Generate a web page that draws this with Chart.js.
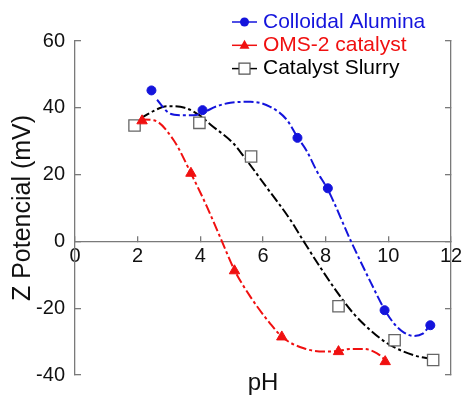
<!DOCTYPE html>
<html>
<head>
<meta charset="utf-8">
<script src="https://cdn.jsdelivr.net/npm/chart.js@4/dist/chart.umd.min.js"></script>
<style>
  html, body { margin: 0; padding: 0; background: #fff; }
  #wrap { width: 464px; height: 397px; position: relative; }
</style>
</head>
<body>
<div id="wrap"><canvas id="zeta"></canvas></div>
<script>
// measured points
const aluminaPH = [2.44, 4.07, 7.1, 8.07, 9.88, 11.34]
const aluminaZ = [45.2, 39.3, 31, 15.9, -20.6, -25.1]
const omsPH = [2.14, 3.7, 5.09, 6.6, 8.41, 9.9]
const omsZ = [36.1, 20.4, -8.8, -28.6, -33, -36]
const slurryPH = [1.9, 3.97, 5.62, 8.41, 10.2, 11.43]
const slurryZ = [34.7, 35.5, 25.4, -19.4, -29.6, -35.5]

// fitted dash-dot curves, knots
const aluminaFitPH = [2.62, 2.99, 3.36, 3.79, 4.1, 4.5, 4.96, 5.6, 6.23, 6.77, 7.08, 7.4, 7.72, 8.07, 8.81, 9.45, 9.88, 10.2, 10.5, 10.8, 11.1, 11.34]
const aluminaFitZ = [42.4, 38.5, 37.8, 37.8, 38.6, 40.4, 41.5, 41.8, 40.3, 36.3, 31.5, 27, 21, 15.5, 0, -12.5, -20.4, -24.8, -27.3, -28.3, -27.6, -25]
const omsFitPH = [2.09, 2.5, 3.15, 3.7, 4.21, 4.69, 5.09, 5.6, 6.23, 6.66, 7.3, 7.93, 8.41, 8.79, 9.21, 9.64, 9.96]
const omsFitZ = [36.5, 36.3, 30.3, 20.4, 10.4, 0, -8.6, -16.6, -24.6, -29, -32, -33, -32.8, -32.2, -32.2, -33.5, -36]
const slurryFitPH = [2.09, 2.5, 2.93, 3.5, 3.97, 4.32, 5.06, 5.38, 6.13, 6.87, 7.3, 7.83, 8.36, 8.89, 9.43, 9.96, 10.49, 11.02, 11.3]
const slurryFitZ = [36.8, 39, 40.5, 40, 37.8, 35, 29.3, 25.5, 16, 6.5, 0, -7.8, -15.1, -21.6, -26.6, -30.5, -33, -34.6, -35]

const seriesLabels = ['Colloidal Alumina', 'OMS-2 catalyst', 'Catalyst Slurry']
const xRange = [0, 12]
const yRange = [-40, 60]

const BLUE = '#1414dc'
const RED = '#f01010'
const BLACK = '#000000'
const AXIS = '#7a7a7a'
const FONT = '"Liberation Sans", Arial, sans-serif'

const toXY = (xs, ys) => xs.map((x, i) => ({ x, y: ys[i] }))

function markerSet(label, xs, ys, color, style, radius, fill) {
  return {
    label,
    data: toXY(xs, ys),
    showLine: false,
    pointStyle: style,
    pointRadius: radius,
    pointBackgroundColor: fill,
    pointBorderColor: color,
    pointBorderWidth: style === 'rect' ? 1.3 : 1,
    borderColor: color,
    backgroundColor: fill,
    order: 0
  }
}

function fitSet(xs, ys, color) {
  return {
    label: '',
    data: toXY(xs, ys),
    showLine: true,
    borderColor: color,
    borderWidth: 2,
    borderDash: [10, 3, 3, 3],
    pointRadius: 0,
    cubicInterpolationMode: 'monotone',
    fill: false,
    order: 1
  }
}

const legendStyles = [
  { color: BLUE, style: 'circle' },
  { color: RED, style: 'triangle' },
  { color: BLACK, style: 'rect' }
]

const lineLegend = {
  id: 'lineLegend',
  afterDraw(chart) {
    const { ctx } = chart
    ctx.save()
    ctx.font = `21px ${FONT}`
    ctx.textBaseline = 'middle'
    seriesLabels.forEach((text, i) => {
      const { color, style } = legendStyles[i]
      const y = 22 + i * 23.3
      ctx.strokeStyle = color
      ctx.lineWidth = 1.5
      ctx.beginPath()
      ctx.moveTo(232, y)
      ctx.lineTo(257, y)
      ctx.stroke()
      ctx.beginPath()
      if (style === 'circle') {
        ctx.fillStyle = color
        ctx.arc(244.5, y, 4.5, 0, Math.PI * 2)
        ctx.fill()
      } else if (style === 'triangle') {
        ctx.fillStyle = color
        ctx.moveTo(244.5, y - 5.5)
        ctx.lineTo(249.5, y + 3.5)
        ctx.lineTo(239.5, y + 3.5)
        ctx.closePath()
        ctx.fill()
      } else {
        ctx.fillStyle = '#fff'
        ctx.strokeStyle = '#555'
        ctx.lineWidth = 1.2
        ctx.rect(239, y - 5.5, 11, 11)
        ctx.fill()
        ctx.stroke()
      }
      ctx.fillStyle = color
      ctx.fillText(text, 263, y)
    })
    ctx.restore()
  }
}

const gridInward = {
  display: true,
  drawOnChartArea: false,
  color: AXIS,
  lineWidth: 1.3,
  tickLength: -6
}

new Chart(document.getElementById('zeta'), {
  type: 'scatter',
  data: {
    datasets: [
      markerSet(seriesLabels[0], aluminaPH, aluminaZ, BLUE, 'circle', 4.5, BLUE),
      markerSet(seriesLabels[1], omsPH, omsZ, RED, 'triangle', 6, RED),
      markerSet(seriesLabels[2], slurryPH, slurryZ, '#666', 'rect', 8, '#fff'),
      fitSet(aluminaFitPH, aluminaFitZ, BLUE),
      fitSet(omsFitPH, omsFitZ, RED),
      fitSet(slurryFitPH, slurryFitZ, BLACK)
    ]
  },
  plugins: [lineLegend],
  options: {
    responsive: true,
    maintainAspectRatio: false,
    animation: false,
    layout: { padding: { left: 0, right: 0, top: 41, bottom: 22 } },
    plugins: {
      legend: { display: false },
      tooltip: { enabled: false }
    },
    scales: {
      x: {
        type: 'linear',
        position: { y: 0 },
        min: xRange[0],
        max: xRange[1],
        grid: gridInward,
        border: { display: true, color: AXIS, width: 1.3 },
        ticks: {
          stepSize: 2,
          padding: 9,
          color: '#111',
          font: { family: FONT, size: 20 }
        },
        title: {
          display: true,
          text: 'pH',
          color: '#111',
          font: { family: FONT, size: 24 },
          padding: { top: 0, bottom: 4 }
        },
        afterFit: (scale) => {
          scale.height = 160
          scale.paddingLeft = 0
          scale.paddingRight = 0
        }
      },
      y: {
        type: 'linear',
        position: 'left',
        min: yRange[0],
        max: yRange[1],
        grid: gridInward,
        border: { display: true, color: AXIS, width: 1.3 },
        ticks: {
          stepSize: 20,
          padding: 16,
          color: '#111',
          font: { family: FONT, size: 20 }
        },
        title: {
          display: true,
          text: 'Z Potencial (mV)',
          color: '#111',
          font: { family: FONT, size: 25 },
          padding: { top: 8, bottom: 0 }
        },
        afterFit: (scale) => {
          scale.width = 75
          scale.paddingTop = 0
          scale.paddingBottom = 0
        }
      },
      y2: {
        type: 'linear',
        position: 'right',
        min: yRange[0],
        max: yRange[1],
        grid: gridInward,
        border: { display: true, color: AXIS, width: 1.3 },
        ticks: { stepSize: 20, display: false },
        afterFit: (scale) => {
          scale.width = 13
          scale.paddingTop = 0
          scale.paddingBottom = 0
        }
      }
    }
  }
})
</script>
</body>
</html>
